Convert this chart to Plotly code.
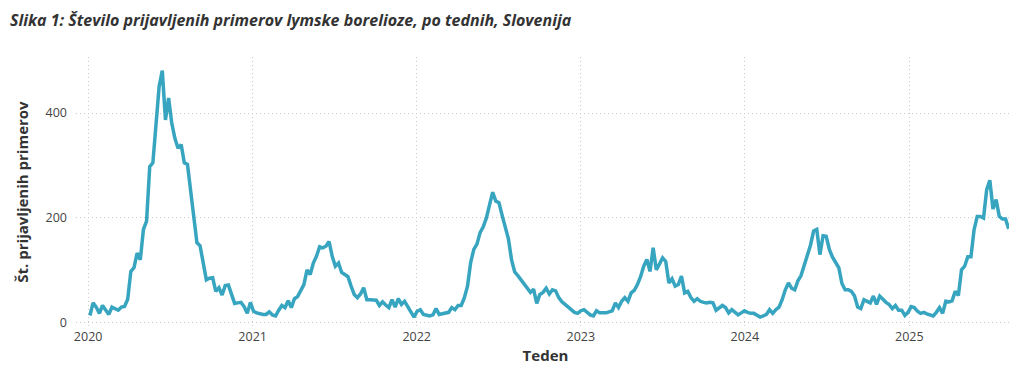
import pandas as pd
import plotly.graph_objects as go

# Weekly reported cases
cases_2020 = [14, 38, 30, 18, 33, 25, 16, 30, 27, 24, 30, 31, 45, 98, 105, 133, 120, 178, 194, 298,
              305, 387, 451, 481, 387, 429, 381, 352, 333, 340, 305, 302, 250, 200, 153, 147, 115, 82,
              85, 86, 60, 67, 53, 71, 72, 55, 37, 38, 39, 31, 18, 39, 22]
cases_2021 = [19, 17, 16, 16, 21, 15, 13, 24, 33, 29, 42, 29, 46, 50, 63, 73, 101, 92, 114, 127,
              145, 143, 146, 155, 127, 108, 114, 96, 92, 88, 70, 54, 48, 55, 67, 44, 44, 44, 43, 33,
              40, 34, 29, 44, 30, 46, 35, 41, 30, 20, 11, 22]
cases_2022 = [25, 16, 14, 13, 15, 27, 16, 17, 18, 20, 29, 25, 33, 33, 48, 70, 115, 140, 150, 172,
              183, 200, 225, 249, 232, 229, 205, 185, 160, 120, 97, 90, 82, 76, 68, 58, 64, 37, 54, 58,
              66, 55, 63, 61, 48, 40, 35, 30, 25, 20, 18, 23]
cases_2023 = [25, 19, 15, 13, 23, 19, 19, 19, 21, 23, 38, 29, 41, 48, 41, 57, 62, 73, 88, 108,
              121, 98, 143, 101, 112, 124, 117, 76, 84, 70, 73, 89, 57, 60, 48, 41, 46, 41, 39, 38,
              39, 38, 24, 28, 33, 29, 19, 25, 20, 15, 19, 23]
cases_2024 = [20, 18, 18, 15, 11, 13, 16, 25, 18, 25, 30, 44, 63, 76, 66, 63, 80, 90, 110, 130,
              148, 175, 178, 130, 166, 165, 140, 125, 115, 105, 75, 63, 63, 60, 51, 30, 27, 44, 41, 38,
              51, 35, 51, 44, 39, 35, 27, 33, 24, 24, 14, 20]
cases_2025 = [31, 29, 22, 18, 20, 17, 15, 13, 20, 29, 18, 41, 40, 42, 60, 52, 101, 108, 126, 126,
              178, 203, 203, 200, 254, 272, 217, 235, 203, 198, 198, 179]

first_week = "2020-01-05"
y_ticks = [0, 200, 400]

cases = cases_2020 + cases_2021 + cases_2022 + cases_2023 + cases_2024 + cases_2025
weeks = pd.date_range(first_week, periods=len(cases), freq="7D")

fig = go.Figure(
    go.Scatter(
        x=weeks, y=cases, mode="lines",
        line=dict(color="#37A5C0", width=3.5),
        hoverinfo="x+y",
    )
)

grid = dict(showgrid=True, gridcolor="#c8c8c8", griddash="1px,3px", gridwidth=1,
            showline=False, zeroline=False, ticks="", automargin=False)

# the page body adds an 8 px margin, so the figure is sized to fit the window
fig.update_layout(
    width=1009, height=365,
    margin=dict(l=68, r=2, t=49, b=46),
    paper_bgcolor="white", plot_bgcolor="white",
    showlegend=False,
    font=dict(family="'Open Sans', Lato, sans-serif", color="#444444", size=13),
    title=dict(
        text="<b><i>Slika 1: Število prijavljenih primerov lymske borelioze, po tednih, Slovenija</i></b>",
        x=0.002, xanchor="left", y=0.966, yanchor="middle",
        font=dict(family="'Open Sans', Lato, sans-serif", size=16, color="#333333"),
        automargin=False,
    ),
    xaxis=dict(
        range=["2019-12-05", "2025-08-24"],
        tick0="2020-01-01", dtick="M12", tickformat="%Y",
        tickfont=dict(size=12.5, color="#444444"),
        title=dict(text="<b>Teden</b>", font=dict(size=15, color="#333333"), standoff=6),
        **grid,
    ),
    yaxis=dict(
        range=[-8, 507],
        tickvals=y_ticks,
        tickfont=dict(size=12.5, color="#444444"),
        ticklabelstandoff=8,
        title=dict(text="<b>Št. prijavljenih primerov</b>", font=dict(size=15, color="#333333"), standoff=13),
        **grid,
    ),
)

fig.write_html("out.html")
